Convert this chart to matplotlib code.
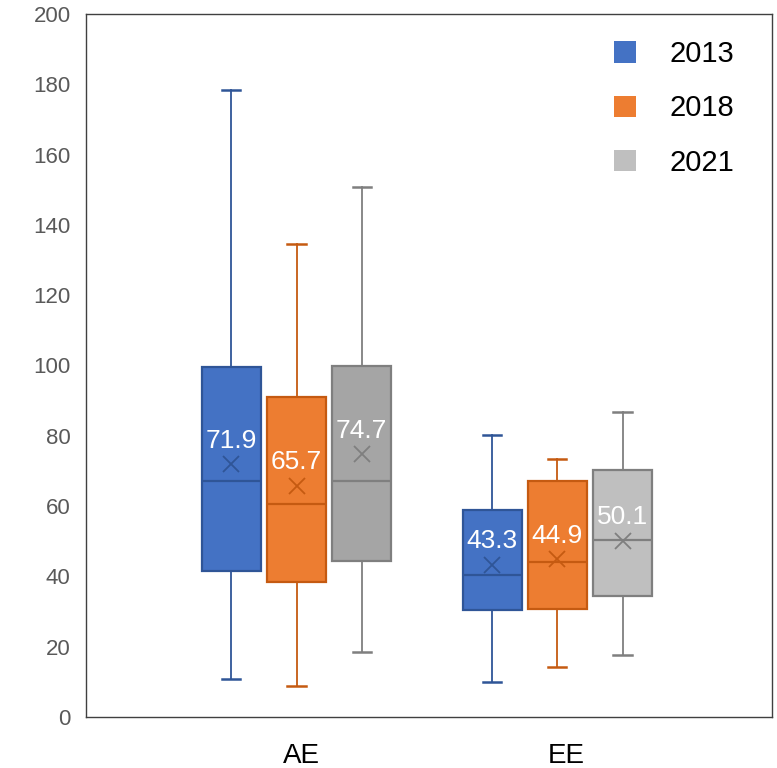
import matplotlib
matplotlib.use("Agg")
import matplotlib.pyplot as plt
from matplotlib.patches import Patch

plt.rcParams['font.family'] = ['Liberation Sans', 'DejaVu Sans']

# Data
groups = ["AE", "EE"]
years = ["2013", "2018", "2021"]

low_2013 = [10.8, 9.9]
q1_2013 = [41.4, 30.5]
med_2013 = [67.0, 40.3]
q3_2013 = [99.5, 58.8]
high_2013 = [178.3, 80.3]
mean_2013 = [71.9, 43.3]

low_2018 = [8.8, 14.2]
q1_2018 = [38.4, 30.8]
med_2018 = [60.7, 44.2]
q3_2018 = [91.1, 67.2]
high_2018 = [134.5, 73.4]
mean_2018 = [65.7, 44.9]

low_2021 = [18.6, 17.5]
q1_2021 = [44.5, 34.4]
med_2021 = [67.0, 50.4]
q3_2021 = [99.8, 70.3]
high_2021 = [150.7, 86.8]
mean_2021 = [74.7, 50.1]

series = [
    (low_2013, q1_2013, med_2013, q3_2013, high_2013, mean_2013),
    (low_2018, q1_2018, med_2018, q3_2018, high_2018, mean_2018),
    (low_2021, q1_2021, med_2021, q3_2021, high_2021, mean_2021),
]

# Styling: fill per group, edge/whisker/mean colour per year
fills = [["#4472C4", "#4472C4"], ["#ED7D31", "#ED7D31"], ["#A5A5A5", "#BFBFBF"]]
edges = ["#2F5597", "#C55A11", "#7F7F7F"]
legend_fills = ["#4472C4", "#ED7D31", "#BFBFBF"]

fig = plt.figure(figsize=(7.77, 7.68), dpi=100)
ax = fig.add_axes([0.1107, 0.0664, 0.8829, 0.9154])

offset = 0.25
width = 0.226
for si, (lo, q1, med, q3, hi, mean) in enumerate(series):
    for gi in range(len(groups)):
        pos = gi + (si - 1) * offset
        stats = [dict(whislo=lo[gi], q1=q1[gi], med=med[gi], q3=q3[gi],
                      whishi=hi[gi], mean=mean[gi], fliers=[])]
        ec = edges[si]
        ax.bxp(stats, positions=[pos], widths=[width], capwidths=[0.07],
               patch_artist=True, showmeans=True, showfliers=False,
               boxprops=dict(facecolor=fills[si][gi], edgecolor=ec, linewidth=1.6),
               medianprops=dict(color=ec, linewidth=1.6),
               whiskerprops=dict(color=ec, linewidth=1.3),
               capprops=dict(color=ec, linewidth=1.8),
               meanprops=dict(marker="x", markersize=12, markeredgecolor=ec,
                              markeredgewidth=1.3, markerfacecolor="none"),
               manage_ticks=False)
        ax.annotate(f"{mean[gi]:.1f}", xy=(pos, mean[gi]), xytext=(0, 17),
                    textcoords="offset points", ha="center", va="center",
                    color="white", fontsize=19, zorder=5)

ax.set_xlim(-0.807, 1.823)
ax.set_ylim(0, 200)
ax.set_yticks(range(0, 201, 20))
ax.set_xticks([0.02, 1.035])
ax.set_xticklabels(groups)
ax.tick_params(axis="y", length=0, pad=11, labelsize=16, labelcolor="#595959")
ax.tick_params(axis="x", length=0, pad=18.5, labelsize=20, labelcolor="black")
for sp in ax.spines.values():
    sp.set_color("#404040")
    sp.set_linewidth(1.0)

handles = [Patch(facecolor=c, edgecolor="none") for c in legend_fills]
ax.legend(handles, years, loc="upper left", bbox_to_anchor=(0.732, 1.0),
          frameon=False, fontsize=21, handlelength=0.75, handleheight=0.75,
          handletextpad=1.15, labelspacing=0.9)

fig.savefig("out.png", dpi=100)
